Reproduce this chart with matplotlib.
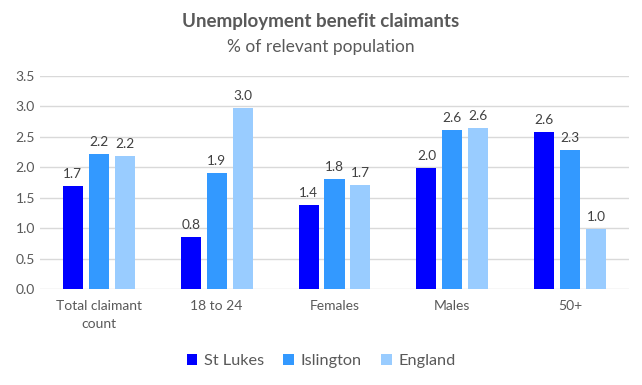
import numpy as np
import matplotlib.pyplot as plt

plt.rcParams['font.family'] = ['Lato', 'DejaVu Sans']

categories = ["Total claimant\ncount", "18 to 24", "Females", "Males", "50+"]
st_lukes = [1.69, 0.85, 1.38, 1.99, 2.58]
islington = [2.21, 1.91, 1.81, 2.61, 2.28]
england = [2.18, 2.97, 1.71, 2.64, 0.98]
series_names = ["St Lukes", "Islington", "England"]
colors = ["#0000FF", "#3399FF", "#99CCFF"]
text_color = "#595959"

fig = plt.figure(figsize=(6.42, 3.85), dpi=100)
ax = fig.add_axes([0.062, 0.249, 0.918, 0.554])

x = np.arange(len(categories))
w = 0.17
step = 0.22
for i, (vals, name, c) in enumerate(zip([st_lukes, islington, england], series_names, colors)):
    pos = x + (i - 1) * step
    ax.bar(pos, vals, width=w, color=c, label=name, zorder=3)
    for p, v in zip(pos, vals):
        ax.text(p, v + 0.1, f"{v:.1f}", ha='center', va='bottom', fontsize=9.8, color="#404040")

ax.set_xlim(-0.5, len(categories) - 0.5)
ax.set_ylim(0, 3.5)
ax.set_yticks(np.arange(0, 3.51, 0.5))
ax.set_yticklabels([f"{t:.1f}" for t in np.arange(0, 3.51, 0.5)])
ax.set_xticks(x)
ax.set_xticklabels(categories, linespacing=1.55)
ax.tick_params(axis='both', length=0, colors=text_color, labelsize=10)
ax.tick_params(axis='x', pad=8)
ax.grid(axis='y', color="#D9D9D9", linewidth=1, zorder=0)
for s in ax.spines.values():
    s.set_visible(False)

fig.text(0.5, 0.943, "Unemployment benefit claimants", ha='center', va='center',
         fontsize=13.5, fontweight='bold', color=text_color)
fig.text(0.5, 0.877, "% of relevant population", ha='center', va='center',
         fontsize=12.5, color=text_color)

fig.legend(loc='center', bbox_to_anchor=(0.5, 0.062), ncol=3, frameon=False,
           fontsize=11.7, labelcolor=text_color, handlelength=0.65, handleheight=0.65,
           handletextpad=0.4, columnspacing=1.2)

fig.savefig("out.png", dpi=100)
